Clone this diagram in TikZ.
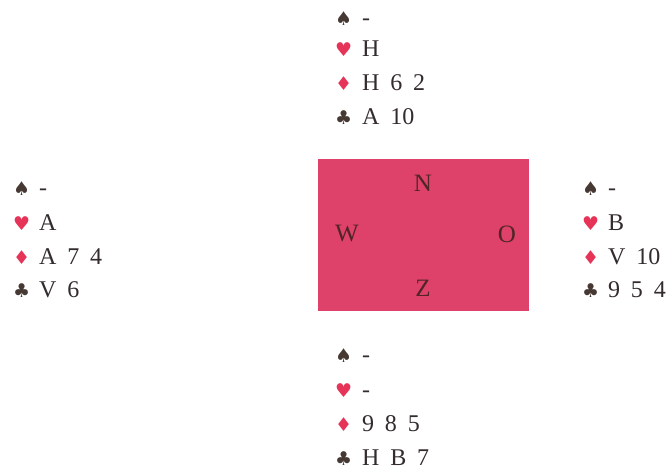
\documentclass[tikz,border=0pt]{standalone}
\usepackage{fontspec}
\setmainfont{Liberation Serif}
\newfontfamily\suitfont{DejaVu Sans}
\definecolor{tablepink}{RGB}{222,66,106}
\definecolor{ink}{RGB}{52,44,44}
\definecolor{redsuit}{RGB}{230,52,88}
\definecolor{blacksuit}{RGB}{70,56,50}
\definecolor{seat}{RGB}{80,36,40}
\newcommand\widespacing{\spaceskip=0.45em\relax}
\tikzset{
  cardtext/.style={anchor=base west, inner sep=0pt, text=ink,
    font=\fontsize{24}{28}\selectfont, execute at begin node=\widespacing},
  blk/.style={anchor=base west, inner sep=0pt, text=blacksuit,
    font=\suitfont\fontsize{19}{22}\selectfont},
  rd/.style={anchor=base west, inner sep=0pt, text=redsuit,
    font=\suitfont\fontsize{19}{22}\selectfont},
  seatlbl/.style={inner sep=0pt, text=seat, font=\fontsize{25}{30}\selectfont}
}
\begin{document}
\begin{tikzpicture}[x=1pt,y=-1pt]
\useasboundingbox[fill=white] (0,0) rectangle (668,470);
% table
\node[draw=none, fill=tablepink, minimum width=211pt, minimum height=152pt, inner sep=0pt, anchor=north west] (table) at (318,159) {};
\node[seatlbl] (n) at (423,183) {N};
\node[seatlbl] (w) at (347,234) {W};
\node[seatlbl] (o) at (507,234) {O};
\node[seatlbl] (z) at (423,288) {Z};
% North
\node[blk] (ns) at (335,26) {♠};  \node[cardtext] (nst) at (362,26) {-};
\node[rd]  (nh) at (335,57) {♥};  \node[cardtext] (nht) at (362,57) {H};
\node[rd]  (nd) at (335,91) {♦};  \node[cardtext] (ndt) at (362,91) {H 6 2};
\node[blk] (nc) at (335,125) {♣}; \node[cardtext] (nct) at (362,125) {A 10};
% West
\node[blk] (ws) at (13,196) {♠};  \node[cardtext] (wst) at (39,196) {-};
\node[rd]  (wh) at (13,230) {♥}; \node[cardtext] (wht) at (39,230) {A};
\node[rd]  (wd) at (13,264) {♦};  \node[cardtext] (wdt) at (39,264) {A 7 4};
\node[blk] (wc) at (13,297) {♣};  \node[cardtext] (wct) at (39,297) {V 6};
% East
\node[blk] (es) at (582,196) {♠};  \node[cardtext] (est) at (608,196) {-};
\node[rd]  (eh) at (582,230) {♥}; \node[cardtext] (eht) at (608,230) {B};
\node[rd]  (ed) at (582,264) {♦};  \node[cardtext] (edt) at (608,264) {V 10};
\node[blk] (ec) at (582,297) {♣};  \node[cardtext] (ect) at (608,297) {9 5 4};
% South
\node[blk] (ss) at (335,362) {♠};  \node[cardtext] (sst) at (362,362) {-};
\node[rd]  (sh) at (335,397) {♥}; \node[cardtext] (sht) at (362,397) {-};
\node[rd]  (sd) at (335,431) {♦};  \node[cardtext] (sdt) at (362,431) {9 8 5};
\node[blk] (sc) at (335,465) {♣};  \node[cardtext] (sct) at (362,465) {H B 7};
\end{tikzpicture}
\end{document}
